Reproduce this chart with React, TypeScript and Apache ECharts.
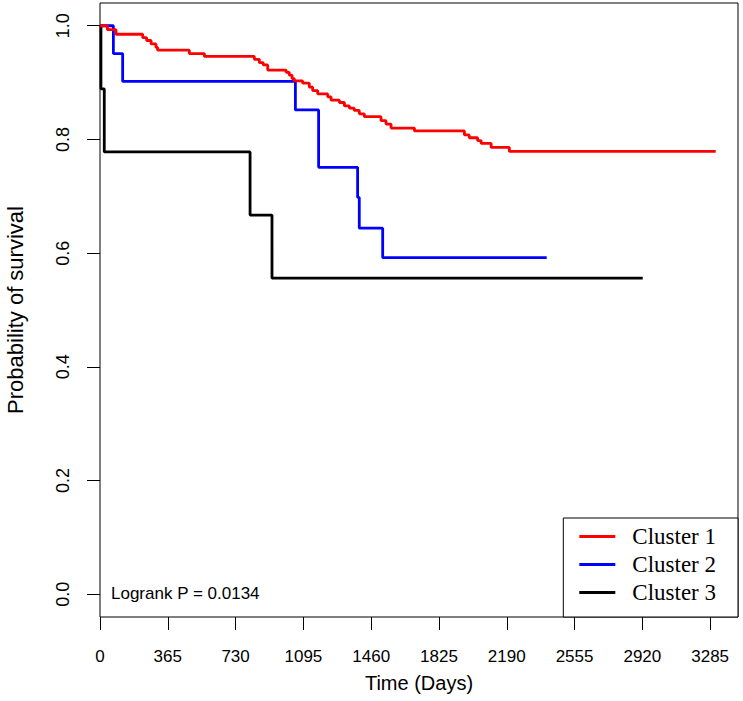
import React, { useEffect, useRef } from "react";
import * as echarts from "echarts";

const xTicks = [0, 365, 730, 1095, 1460, 1825, 2190, 2555, 2920, 3285];
const yTicks = [0, 0.2, 0.4, 0.6, 0.8, 1.0];
const seriesNames = ["Cluster 1", "Cluster 2", "Cluster 3"];
const seriesColors = ["#ff0000", "#0000ff", "#000000"];

const cluster1Days = [0, 40, 86, 230, 251, 275, 301, 310, 481, 562, 831, 858, 879, 903, 1002, 1019, 1034, 1046, 1091, 1127, 1145, 1172, 1226, 1244, 1289, 1316, 1343, 1369, 1396, 1423, 1513, 1540, 1567, 1693, 1962, 1988, 2033, 2052, 2106, 2204, 3315];
const cluster1Surv = [1.0, 0.993, 0.985, 0.979, 0.974, 0.968, 0.962, 0.957, 0.951, 0.946, 0.941, 0.935, 0.931, 0.922, 0.918, 0.913, 0.907, 0.903, 0.899, 0.892, 0.886, 0.88, 0.875, 0.869, 0.865, 0.859, 0.855, 0.851, 0.845, 0.84, 0.833, 0.827, 0.82, 0.815, 0.808, 0.803, 0.798, 0.793, 0.786, 0.779, 0.779];

const cluster2Days = [0, 72, 122, 1052, 1177, 1387, 1396, 1522, 2405];
const cluster2Surv = [1.0, 0.951, 0.902, 0.852, 0.751, 0.698, 0.644, 0.592, 0.592];

const cluster3Days = [0, 5, 23, 808, 926, 2922];
const cluster3Surv = [1.0, 0.889, 0.778, 0.667, 0.556, 0.556];

const logrankText = "Logrank P = 0.0134";

const sansFont = '"Liberation Sans", Arial, sans-serif';
const serifFont = '"Liberation Serif", "Times New Roman", serif';

function pairs(days: number[], surv: number[]) {
  return days.map((d, i) => [d, surv[i]]);
}

export default function App() {
  const ref = useRef<HTMLDivElement>(null);
  useEffect(() => {
    if (!ref.current) return;
    const chart = echarts.init(ref.current, undefined, { renderer: "svg" });
    const allData = [
      pairs(cluster1Days, cluster1Surv),
      pairs(cluster2Days, cluster2Surv),
      pairs(cluster3Days, cluster3Surv),
    ];
    chart.setOption({
      animation: false,
      backgroundColor: "#ffffff",
      grid: {
        left: 100,
        right: 5,
        top: 3,
        bottom: 84,
        show: true,
        borderColor: "#000",
        borderWidth: 1,
        backgroundColor: "transparent",
        containLabel: false,
        outerBoundsMode: "none",
      },
      xAxis: {
        type: "value",
        min: 0,
        max: 3435,
        axisLine: { show: false, onZero: false },
        axisTick: {
          show: true,
          customValues: xTicks,
          length: 13,
          lineStyle: { color: "#000", width: 1 },
        },
        axisLabel: {
          customValues: xTicks,
          color: "#000",
          fontSize: 17,
          fontFamily: sansFont,
          margin: 31,
          formatter: (v: number) => String(v),
        },
        splitLine: { show: false },
        name: "Time (Days)",
        nameLocation: "middle",
        nameGap: 56,
        nameTextStyle: { color: "#000", fontSize: 20, fontFamily: sansFont },
      },
      yAxis: {
        type: "value",
        min: -0.04,
        max: 1.04,
        axisLine: { show: false, onZero: false },
        axisTick: {
          show: true,
          customValues: yTicks,
          length: 13,
          lineStyle: { color: "#000", width: 1 },
        },
        axisLabel: {
          customValues: yTicks,
          rotate: 90,
          color: "#000",
          fontSize: 18,
          fontFamily: sansFont,
          margin: 28,
          formatter: (v: number) => v.toFixed(1),
        },
        splitLine: { show: false },
        name: "Probability of survival",
        nameLocation: "middle",
        nameRotate: 90,
        nameGap: 74,
        nameTextStyle: { color: "#000", fontSize: 22, fontFamily: sansFont },
      },
      legend: {
        orient: "vertical",
        right: 5,
        bottom: 84,
        data: seriesNames,
        icon: "rect",
        itemWidth: 36,
        itemHeight: 3,
        itemGap: 5,
        borderColor: "#000",
        borderWidth: 1,
        backgroundColor: "#fff",
        padding: [7, 22, 13, 16],
        textStyle: {
          color: "#000",
          fontSize: 23,
          fontFamily: serifFont,
          lineHeight: 22,
          padding: [0, 0, 0, 12],
        },
      },
      graphic: [
        {
          type: "text",
          left: 111,
          top: 585,
          style: {
            text: logrankText,
            fill: "#000",
            font: '17px "Liberation Sans", Arial, sans-serif',
          },
        },
      ],
      series: seriesNames.map((name, i) => ({
        name,
        type: "line",
        step: "end",
        symbol: "none",
        data: allData[i],
        color: seriesColors[i],
        lineStyle: { color: seriesColors[i], width: 2.8 },
        z: 3 - i,
      })),
    });
    return () => chart.dispose();
  }, []);
  return (
    <div
      ref={ref}
      style={{ position: "fixed", left: 0, top: 0, width: 743, height: 701, background: "#fff" }}
    />
  );
}
